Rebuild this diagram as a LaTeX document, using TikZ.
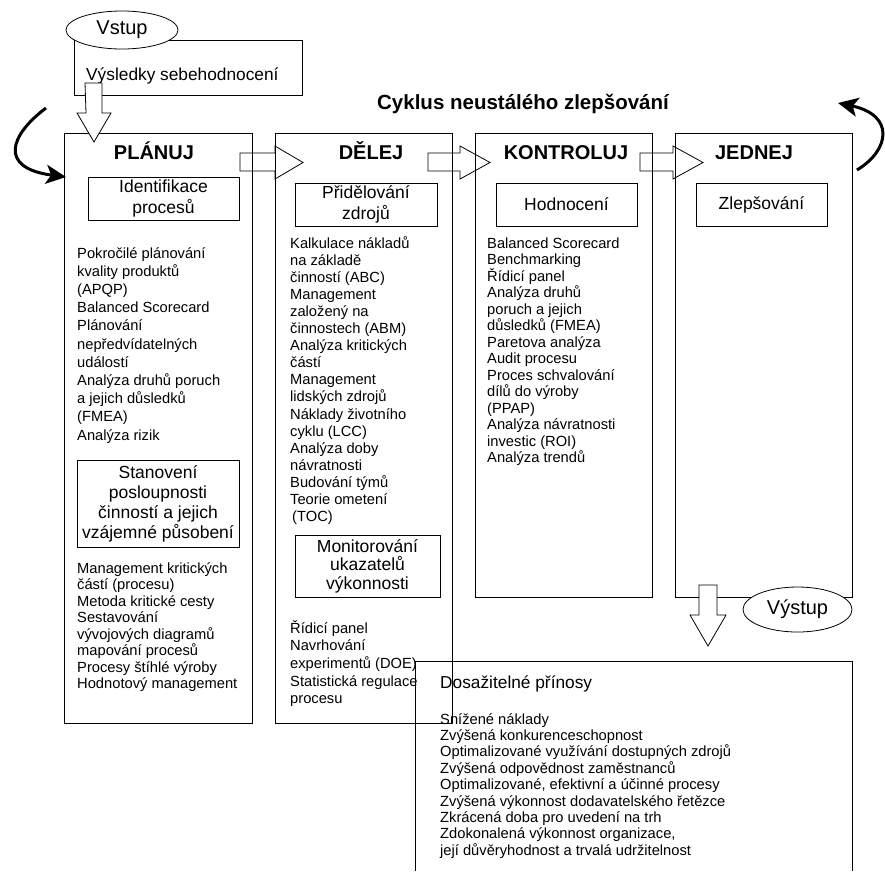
\documentclass[tikz,border=0pt]{standalone}
\usepackage{fontspec}
\setmainfont{Liberation Sans}
\usetikzlibrary{arrows.meta,shapes.geometric}

\begin{document}
\begin{tikzpicture}[x=1pt,y=-1pt,
  phase/.style={draw, line width=0.8pt, anchor=north west, inner sep=0pt},
  phasetitle/.style={anchor=base, inner sep=0pt, font=\fontsize{20}{24}\selectfont\bfseries},
  task/.style={draw, line width=0.8pt, align=center, inner sep=0pt, font=\fontsize{17.5}{21}\selectfont},
  items/.style={anchor=base west, align=left, inner sep=0pt},
  bubble/.style={draw, ellipse, fill=white, line width=0.8pt, inner sep=0pt, font=\fontsize{20}{24}\selectfont},
  fat/.style={draw, fill=white, line width=0.8pt, line join=miter},
  hollow/.style={draw, line width=0.8pt, line join=miter},
  cyclearrow/.style={line width=3pt, -{Stealth[length=20pt,width=19pt,inset=5pt]}}]
  \useasboundingbox (0,0) rectangle (885,871);

  % four phases of the cycle
  \node[phase, minimum width=188pt, minimum height=590pt] (plan) at (64,133) {};
  \node[phase, minimum width=177pt, minimum height=590pt] (do) at (275,133) {};
  \node[phase, minimum width=177pt, minimum height=464pt] (check) at (475,133) {};
  \node[phase, minimum width=177pt, minimum height=464pt] (act) at (675,133) {};
  \node[phasetitle] (planT) at (154,159) {PLÁNUJ};
  \node[phasetitle] (doT) at (371,159) {DĚLEJ};
  \node[phasetitle] (checkT) at (566,159) {KONTROLUJ};
  \node[phasetitle] (actT) at (754,159) {JEDNEJ};
  \node[anchor=base, inner sep=0pt, font=\fontsize{20.5}{24}\selectfont\bfseries] (cycle) at (523,109) {Cyklus neustálého zlepšování};

  % PLANUJ (list nodes sit on the baseline of their last line)
  \node[task, minimum width=151pt, minimum height=43pt] (ident) at (163.5,198.5) {Identifikace\\procesů};
  \node[items, font=\fontsize{14.7}{18.2}\selectfont] (planA) at (77,440) {Pokročilé plánování\\kvality produktů\\(APQP)\\Balanced Scorecard\\Plánování\\nepředvídatelných\\událostí\\Analýza druhů poruch\\a jejich důsledků\\(FMEA)\\Analýza rizik};
  \node[task, minimum width=162pt, minimum height=87pt, font=\fontsize{17.5}{20}\selectfont] (order) at (158,503.5) {Stanovení\\posloupnosti\\činností a jejich\\vzájemné působení};
  \node[items, font=\fontsize{14.7}{16.5}\selectfont] (planB) at (77,688.5) {Management kritických\\částí (procesu)\\Metoda kritické cesty\\Sestavování\\vývojových diagramů\\mapování procesů\\Procesy štíhlé výroby\\Hodnotový management};

  % DELEJ
  \node[task, minimum width=142pt, minimum height=43pt] (alloc) at (366,204.5) {Přidělování\\zdrojů};
  \node[items, font=\fontsize{14.7}{17.1}\selectfont] (doA) at (290,521.6) {Kalkulace nákladů\\na základě\\činností (ABC)\\Management\\založený na\\činnostech (ABM)\\Analýza kritických\\částí\\Management\\lidských zdrojů\\Náklady životního\\cyklu (LCC)\\Analýza doby\\návratnosti\\Budování týmů\\Teorie ometení\\\hspace{2pt}(TOC)};
  \node[task, minimum width=145pt, minimum height=62pt, font=\fontsize{17.5}{18.5}\selectfont] (monitor) at (367.5,566) {Monitorování\\ukazatelů\\výkonnosti};
  \node[items, font=\fontsize{14.7}{17.7}\selectfont] (doB) at (290,703.8) {Řídicí panel\\Navrhování\\experimentů (DOE)\\Statistická regulace\\procesu};

  % KONTROLUJ
  \node[task, minimum width=141pt, minimum height=43pt] (eval) at (566.5,204.5) {Hodnocení};
  \node[items, font=\fontsize{14.7}{16.5}\selectfont] (checkA) at (487,462.5) {Balanced Scorecard\\Benchmarking\\Řídicí panel\\Analýza druhů\\poruch a jejich\\důsledků (FMEA)\\Paretova analýza\\Audit procesu\\Proces schvalování\\dílů do výroby\\(PPAP)\\Analýza návratnosti\\investic (ROI)\\Analýza trendů};

  % JEDNEJ
  \node[task, minimum width=131pt, minimum height=43pt] (improve) at (761.5,204.5) {Zlepšování};

  % input
  \node[phase, minimum width=228pt, minimum height=55pt] (selfbox) at (74,40) {};
  \node[anchor=base west, inner sep=0pt, font=\fontsize{17.3}{21}\selectfont] (selfT) at (86,80) {Výsledky sebehodnocení};
  \node[bubble, minimum width=112pt, minimum height=38pt] (in) at (122,30) {Vstup};
  \draw[fat] (85,83) -- ++(17,0) -- ++(0,30) -- ++(9,0) -- ++(-17,29) -- ++(-17,-29) -- ++(9,0) -- cycle;

  % block arrows between phases
  \draw[hollow] (240,153) -- ++(35,0) -- ++(0,-7) -- ++(28,16.5) -- ++(-28,16.5) -- ++(0,-8) -- ++(-35,0) -- cycle;
  \draw[hollow] (428,153) -- ++(32,0) -- ++(0,-7) -- ++(30,16.5) -- ++(-30,16.5) -- ++(0,-8) -- ++(-32,0) -- cycle;
  \draw[hollow] (640,153) -- ++(33,0) -- ++(0,-7) -- ++(30,16.5) -- ++(-30,16.5) -- ++(0,-8) -- ++(-33,0) -- cycle;

  % curved arrows closing the cycle
  \coordinate (loopL) at (46,108);
  \coordinate (loopLend) at (66,177);
  \draw[cyclearrow] (loopL) .. controls (10,135) and (-2,168) .. (loopLend);
  \coordinate (loopR) at (857,170);
  \coordinate (loopRend) at (838,103);
  \draw[cyclearrow] (loopR) .. controls (890,150) and (895,115) .. (loopRend);

  % output
  \draw[fat] (699,585) -- ++(18,0) -- ++(0,30) -- ++(9,0) -- ++(-18,31) -- ++(-18,-31) -- ++(9,0) -- cycle;
  \node[bubble, minimum width=109pt, minimum height=45pt] (out) at (797.5,609.5) {Výstup};
  \coordinate (benBL) at (415,871);
  \coordinate (benBR) at (852,871);
  \draw[hollow] (benBL) -- (415,661) -- (852,661) -- (benBR);
  \node[anchor=base west, inner sep=0pt, font=\fontsize{17.3}{21}\selectfont] (benT) at (440,688) {Dosažitelné přínosy};
  \node[items, font=\fontsize{14.7}{16.4}\selectfont] (benL) at (440,855.2) {Snížené náklady\\Zvýšená konkurenceschopnost\\Optimalizované využívání dostupných zdrojů\\Zvýšená odpovědnost zaměstnanců\\Optimalizované, efektivní a účinné procesy\\Zvýšená výkonnost dodavatelského řetězce\\Zkrácená doba pro uvedení na trh\\Zdokonalená výkonnost organizace,\\její důvěryhodnost a trvalá udržitelnost};
\end{tikzpicture}
\end{document}
